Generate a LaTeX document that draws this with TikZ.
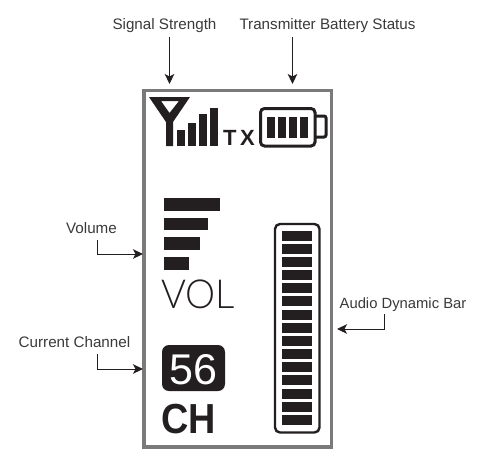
\documentclass[tikz,border=0pt]{standalone}
\usepackage{fontspec}
\setmainfont{Liberation Sans}
\newfontfamily\volfont{Lato Light}
\usetikzlibrary{arrows.meta}
\definecolor{ink}{HTML}{231F20}
\definecolor{framegrey}{HTML}{7A7A7A}
\definecolor{labelgrey}{HTML}{3A3A3A}
\tikzset{
  lab/.style={font=\fontsize{15.2}{17}\selectfont,text=labelgrey,inner sep=0pt,anchor=base},
  conn/.style={draw=ink,line width=0.9pt,-{Stealth[length=10pt,width=9.5pt,inset=2.5pt]}},
  solid ink/.style={fill=ink,draw=none},
  outline/.style={draw=ink,line width=3pt,fill=none},
}
\begin{document}
\begin{tikzpicture}[x=1pt,y=-1pt]
\useasboundingbox (0,0) rectangle (483,459);
\fill[white] (0,0) rectangle (483,459);
% frame
\draw[draw=framegrey,line width=3.6pt] (144,90.5) rectangle (331.5,447);
\coordinate (frameTopA) at (169.5,84);
\coordinate (frameTopB) at (292.5,84);
\coordinate (frameLeftA) at (143,254);
\coordinate (frameLeftB) at (143,369);
\coordinate (barRight) at (337,329);
% labels
\node[lab] (sig) at (164.5,29) {Signal Strength};
\node[lab] (tx) at (327.5,29) {Transmitter Battery Status};
\node[lab] (vol) at (91.5,233) {Volume};
\node[lab] (cur) at (74.5,347) {Current Channel};
\node[lab,font=\fontsize{14.8}{17}\selectfont] (aud) at (403,308) {Audio Dynamic Bar};
% connectors
\coordinate (sigS) at (169.5,37);
\coordinate (txS) at (292.5,37);
\coordinate (volS) at (97,240);
\coordinate (curS) at (97,354);
\coordinate (audS) at (384,314);
\draw[conn] (sigS) -- (frameTopA);
\draw[conn] (txS) -- (frameTopB);
\draw[conn] (volS) |- (frameLeftA);
\draw[conn] (curS) |- (frameLeftB);
\draw[conn] (audS) |- (barRight);
% antenna
\fill[solid ink,even odd rule] (149,97) -- (190,97) -- (173,122) -- (173,146) -- (166,146) -- (166,122) -- cycle
  (161,101) -- (179,101) -- (169.5,113) -- cycle;
\foreach \xa/\xb/\yt in {177/184.5/130,188/196/123,199/207/114,210/218/108}
  \fill[solid ink] (\xa,\yt) rectangle (\xb,146);
\node[inner sep=0pt,text=ink,anchor=base west,font=\fontsize{22}{22}\selectfont\bfseries] (txt) at (223,145) {T\kern3.5pt X};
% battery
\draw[outline,rounded corners=4pt] (260.5,108.5) rectangle (315,146);
\draw[outline,rounded corners=2pt] (315,116) -- (326,116) -- (326,137) -- (315,137);
\foreach \xa in {267,278,289,300}
  \fill[solid ink] (\xa,117) rectangle +(8,21);
% volume
\fill[solid ink] (164,198) rectangle (220,211);
\fill[solid ink] (164,218) rectangle (208,230);
\fill[solid ink] (164,237) rectangle (200,250);
\fill[solid ink] (164,257) rectangle (189,270);
\node[inner sep=0pt,text=ink,anchor=base west,font=\fontsize{40}{40}\selectfont\volfont,xscale=0.95] (voltxt) at (161,308) {VOL};
% channel
\node[solid ink,rounded corners=7pt,minimum width=63pt,minimum height=46pt,inner sep=0pt] (box) at (193.5,368) {};
\node[inner sep=0pt,text=white,anchor=base,font=\fontsize{43}{43}\selectfont] (num) at (193.5,384) {56};
\node[inner sep=0pt,text=ink,anchor=base west,font=\fontsize{42}{42}\selectfont\bfseries,xscale=0.9] (ch) at (161,433) {CH};
% dynamic bar
\draw[outline,line width=2.4pt,rounded corners=5pt] (275,224) rectangle (319.5,432.5);
\foreach \yt in {231,244,257,270,283,296,310,323,336,349,362,375,389,402,415}
  \fill[solid ink] (282,\yt) rectangle (312,\yt+10);
\end{tikzpicture}
\end{document}
